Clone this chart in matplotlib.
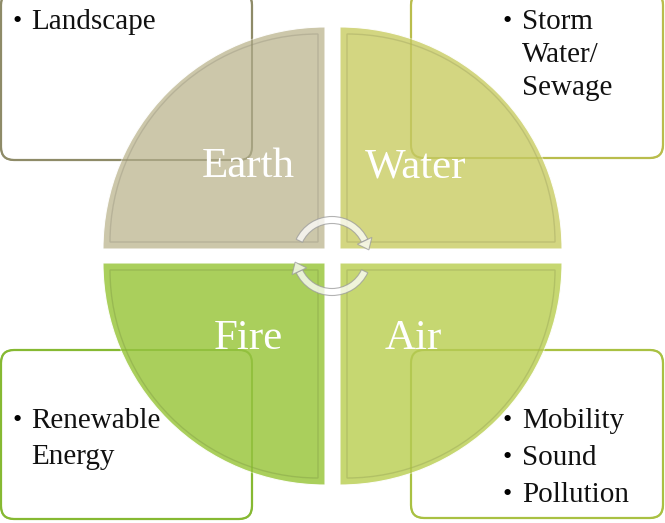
import numpy as np
import matplotlib
matplotlib.use("Agg")
import matplotlib.pyplot as plt
from matplotlib.patches import Wedge, FancyBboxPatch, Polygon

# diagram content
elements = ["Earth", "Water", "Fire", "Air"]
bullets = [
    ["Landscape"],
    ["Storm", "Water/", "Sewage"],
    ["Renewable", "Energy"],
    ["Mobility", "Sound", "Pollution"],
]
# which lines start a new bullet point
bullet_starts = [
    [True],
    [True, False, False],
    [True, False],
    [True, True, True],
]
quad_colors = ["#c8c3a4", "#d0d378", "#a4cc50", "#c2d466"]
box_edges = ["#8e8b68", "#b9bd4c", "#86b932", "#a9c142"]

plt.rcParams['font.family'] = ['Liberation Serif', 'DejaVu Serif']

fig = plt.figure(figsize=(6.65, 5.23), dpi=100)
ax = fig.add_axes([0, 0, 1, 1])
ax.set_xlim(0, 665)
ax.set_ylim(523, 0)
ax.set_aspect('equal')
ax.axis('off')

# quadrant corners (x, y) and angle ranges (y axis points down)
R = 222
corners = [(325, 249), (340, 249), (325, 263), (340, 263)]
angles = [(180, 270), (270, 360), (90, 180), (0, 90)]
label_pos = [(248, 167), (416, 167), (248, 339), (413, 339)]

# text boxes: x, y, w, h
boxes = [(1, -8, 251, 168), (411, -8, 252, 166), (1, 350, 251, 169), (411, 350, 252, 168)]
text_start = [(12, 22), (503, 22), (12, 421), (503, 421)]
line_gap = [33, 33, 36, 37]

for (bx, by, bw, bh), ec in zip(boxes, box_edges):
    ax.add_patch(FancyBboxPatch((bx, by), bw, bh, boxstyle="round,pad=0,rounding_size=13",
                                facecolor="white", edgecolor=ec, lw=1.6, zorder=1))

for i, name in enumerate(elements):
    cx, cy = corners[i]
    t1, t2 = angles[i]
    ax.add_patch(Wedge((cx, cy), R, t1, t2, facecolor=quad_colors[i],
                       edgecolor="white", lw=0.8, alpha=0.93, zorder=2))
    # bevel: inner darker outline
    sx = 1 if t1 in (270, 0) else -1
    sy = 1 if t1 in (0, 90) else -1
    ax.add_patch(Wedge((cx + sx * 7, cy + sy * 7), R - 14, t1, t2, facecolor="none",
                       edgecolor="#000000", lw=1.0, alpha=0.1, zorder=2.5))
    ax.text(*label_pos[i], name, color="white", fontsize=31, ha="center", va="center", zorder=6)

# box outlines visible through quadrants
for (bx, by, bw, bh), ec in zip(boxes, box_edges):
    ax.add_patch(FancyBboxPatch((bx, by), bw, bh, boxstyle="round,pad=0,rounding_size=13",
                                facecolor="none", edgecolor=ec, lw=1.4, alpha=0.55, zorder=3))

for i, lines in enumerate(bullets):
    x0, y0 = text_start[i]
    for j, line in enumerate(lines):
        y = y0 + j * line_gap[i]
        if bullet_starts[i][j]:
            ax.text(x0, y, "\u2022", fontsize=19, ha="left", va="center", color="black", zorder=6)
        ax.text(x0 + 19, y, line, fontsize=21, ha="left", va="center", color="#111111", zorder=6)

# circular arrows in the middle
cc = (332, 256)
ra = 36
for a1, a2, tip in [(205, 335, 335), (25, 155, 155)]:
    ax.add_patch(Wedge(cc, ra + 3.5, a1, a2, width=7, facecolor="white",
                       edgecolor="#9a9a9a", lw=0.8, alpha=0.75, zorder=4))
    t = np.deg2rad(tip)
    d = np.array([-np.sin(t), np.cos(t)])
    base = np.array([cc[0] + ra * np.cos(t), cc[1] + ra * np.sin(t)])
    nrm = np.array([np.cos(t), np.sin(t)])
    pts = [base + nrm * 8, base - nrm * 8, base + d * 10]
    ax.add_patch(Polygon(pts, closed=True, facecolor="white", edgecolor="#9a9a9a",
                         lw=0.8, alpha=0.75, zorder=4))

fig.savefig("out.png", dpi=100)
